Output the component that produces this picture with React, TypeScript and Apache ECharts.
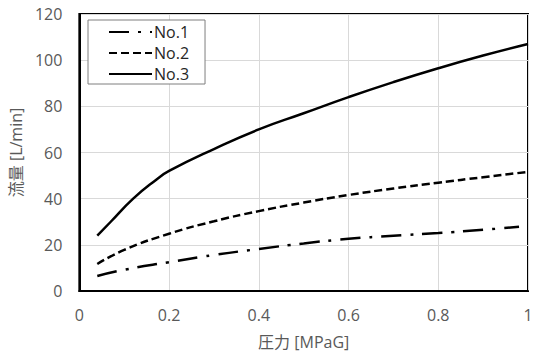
import React, { useEffect, useRef } from "react";
import * as echarts from "echarts";

const pressure1 = [0.04, 0.1, 0.2, 0.3, 0.4, 0.5, 0.6, 0.7, 0.8, 0.9, 0.98];
const flow1 = [6.5, 9.2, 12.5, 15.6, 18.2, 20.6, 22.6, 23.9, 25.1, 26.5, 27.8];
const pressure2 = [0.04, 0.1, 0.2, 0.3, 0.4, 0.5, 0.6, 0.7, 0.8, 0.9, 1.0];
const flow2 = [11.7, 17.8, 24.8, 30.2, 34.6, 38.3, 41.6, 44.4, 46.9, 49.3, 51.6];
const pressure3 = [0.04, 0.07, 0.12, 0.17, 0.2, 0.3, 0.4, 0.5, 0.6, 0.7, 0.8, 0.9, 1.0];
const flow3 = [24, 30, 40, 48, 52, 61.5, 70, 77, 84, 90.5, 96.5, 102, 107];
const seriesNames = ["No.1", "No.2", "No.3"];
const xTicks = [0, 0.2, 0.4, 0.6, 0.8, 1];
const yTicks = [0, 20, 40, 60, 80, 100, 120];

const pair = (xs: number[], ys: number[]) => xs.map((x, i) => [x, ys[i]]);

export default function App() {
  const ref = useRef<HTMLDivElement>(null);
  useEffect(() => {
    if (!ref.current) return;
    const chart = echarts.init(ref.current, undefined, { renderer: "svg" });
    const font = "'Open Sans', 'Noto Sans', 'Noto Sans CJK JP', sans-serif";
    const labelColor = "#595959";
    chart.setOption({
      animation: false,
      textStyle: { fontFamily: font },
      grid: {
        left: 77,
        right: 8,
        top: 14,
        bottom: 67,
        show: true,
        borderColor: "#000",
        borderWidth: 2,
        backgroundColor: "transparent",
      },
      legend: {
        orient: "vertical",
        left: 88,
        top: 20,
        itemWidth: 43,
        itemHeight: 16,
        itemGap: 5,
        padding: [4, 16, 2, 20],
        borderColor: "#7f7f7f",
        borderWidth: 1,
        backgroundColor: "#fff",
        itemStyle: { opacity: 0 },
        textStyle: { fontFamily: font, fontSize: 16, color: "#262626", padding: [0, 0, 0, -3] },
        data: seriesNames,
      },
      xAxis: {
        type: "value",
        min: xTicks[0],
        max: xTicks[xTicks.length - 1],
        interval: 0.2,
        name: "圧力 [MPaG]",
        nameLocation: "middle",
        nameGap: 43,
        nameTextStyle: { fontFamily: font, fontSize: 16, color: labelColor },
        axisLine: { show: true, lineStyle: { color: "#000", width: 2 } },
        axisTick: { show: false },
        axisLabel: { fontFamily: font, fontSize: 16, color: labelColor, margin: 16 },
        splitLine: { show: true, lineStyle: { color: "#d9d9d9", width: 1 } },
      },
      yAxis: {
        type: "value",
        min: yTicks[0],
        max: yTicks[yTicks.length - 1],
        interval: 20,
        name: "流量 [L/min]",
        nameLocation: "middle",
        nameGap: 53,
        nameTextStyle: { fontFamily: font, fontSize: 16, color: labelColor },
        axisLine: { show: true, lineStyle: { color: "#000", width: 2 } },
        axisTick: { show: false },
        axisLabel: { fontFamily: font, fontSize: 16, color: labelColor, margin: 17 },
        splitLine: { show: true, lineStyle: { color: "#d9d9d9", width: 1 } },
      },
      series: [
        {
          name: seriesNames[0],
          type: "line",
          symbol: "none",
          smooth: true,
          data: pair(pressure1, flow1),
          lineStyle: { color: "#000", width: 2.5, type: [20, 9, 3, 9] },
          itemStyle: { color: "#000" },
        },
        {
          name: seriesNames[1],
          type: "line",
          symbol: "none",
          smooth: true,
          data: pair(pressure2, flow2),
          lineStyle: { color: "#000", width: 2.5, type: [8, 4] },
          itemStyle: { color: "#000" },
        },
        {
          name: seriesNames[2],
          type: "line",
          symbol: "none",
          smooth: true,
          data: pair(pressure3, flow3),
          lineStyle: { color: "#000", width: 2.5, type: "solid" },
          itemStyle: { color: "#000" },
        },
      ],
    });
    return () => chart.dispose();
  }, []);
  return <div ref={ref} style={{ width: 536, height: 358, position: "absolute", left: 0, top: 0, background: "#fff" }} />;
}
